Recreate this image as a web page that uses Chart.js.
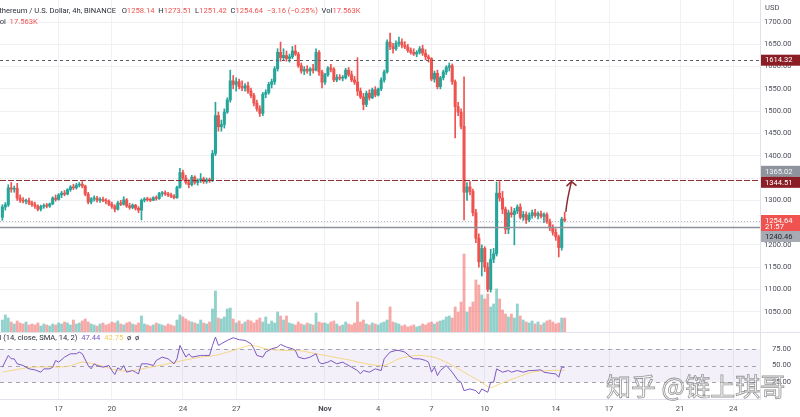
<!DOCTYPE html>
<html>
<head>
<meta charset="utf-8">
<script src="https://cdn.jsdelivr.net/npm/chart.js@4.4.0/dist/chart.umd.min.js"></script>
<style>
    html, body { margin: 0; padding: 0; background: #fff; overflow: hidden; }
    #wrap { position: relative; width: 800px; height: 417px; font-family: Roboto, 'Open Sans', sans-serif; }
    #priceBox { position: absolute; left: 0; top: 0; width: 800px; height: 332px; }
    #rsiBox { position: absolute; left: 0; top: 332px; width: 800px; height: 85px; }
    .legend { position: absolute; white-space: nowrap; font-size: 7.6px; line-height: 10px; color: #2a2e39; }
    .red { color: #ef5350; }
    .purple { color: #7e57c2; }
    .yellow { color: #f2cc5c; }
    #wm {
        position: absolute; left: 606px; top: 373px; font-size: 25px; line-height: 25px;
        font-family: 'Noto Sans CJK SC', sans-serif; white-space: nowrap;
        color: rgba(255, 255, 255, 0.55); -webkit-text-stroke: 0.8px rgba(115, 115, 115, 0.75);
    }
</style>
</head>
<body>
<div id="wrap">
    <div id="priceBox"><canvas id="graficoPreco"></canvas></div>
    <div id="rsiBox"><canvas id="graficoRsi"></canvas></div>
    <div class="legend" style="left:-5px; top:6px">Ethereum / U.S. Dollar, 4h, BINANCE&nbsp;&nbsp;
        O<span class="red" id="lgO"></span>&nbsp; H<span class="red" id="lgH"></span>&nbsp; L<span class="red" id="lgL"></span>&nbsp; C<span class="red" id="lgC"></span>&nbsp; <span class="red" id="lgChg"></span>&nbsp; Vol<span class="red" id="lgV"></span></div>
    <div class="legend" style="left:-5px; top:17px">Vol&nbsp; <span class="red" id="lgV2"></span></div>
    <div class="legend" style="left:-10px; top:333px">RSI (14, close, SMA, 14, 2)&nbsp; <span class="purple" id="lgRsi"></span>&nbsp; <span class="yellow" id="lgSma"></span>&nbsp; ø&nbsp; ø</div>
    <div id="wm">知乎 @链上琪哥</div>
</div>
<script>
// ETH/USD 4h candles, day 0 = 1 Nov 00:00
const firstCandleDay = -18 - 1 / 6;   // 13 Oct 20:00
const candlesPerDay = 6;

const opens = [
    1262, 1285, 1290, 1328, 1325, 1327, 1305, 1300, 1298, 1299,
    1294, 1290, 1287, 1280, 1286, 1288, 1287, 1292, 1305, 1302,
    1312, 1316, 1314, 1324, 1330, 1328, 1334, 1336, 1332, 1314,
    1296, 1303, 1305, 1300, 1302, 1299, 1298, 1291, 1286, 1280,
    1294, 1291, 1301, 1287, 1284, 1289, 1282, 1278, 1300, 1303,
    1301, 1300, 1306, 1304, 1315, 1317, 1314, 1312, 1309, 1306,
    1329, 1362, 1350, 1340, 1335, 1352, 1340, 1345, 1348, 1342,
    1346, 1344, 1405, 1490, 1465, 1470, 1498, 1525, 1568, 1560,
    1566, 1555, 1552, 1557, 1545, 1535, 1518, 1505, 1495, 1538,
    1542, 1560, 1566, 1595, 1632, 1620, 1625, 1618, 1622, 1635,
    1628, 1602, 1590, 1594, 1590, 1595, 1592, 1632, 1588, 1565,
    1582, 1597, 1594, 1570, 1576, 1574, 1575, 1592, 1582, 1570,
    1565, 1545, 1532, 1515, 1540, 1530, 1548, 1536, 1550, 1570,
    1588, 1655, 1645, 1640, 1652, 1655, 1648, 1644, 1636, 1632,
    1628, 1632, 1640, 1630, 1622, 1618, 1572, 1585, 1555, 1575,
    1588, 1598, 1602, 1566, 1510, 1498, 1466, 1318, 1330, 1320,
    1272, 1215, 1162, 1192, 1150, 1100, 1168, 1180, 1316, 1305,
    1280, 1235, 1272, 1268, 1276, 1285, 1262, 1268, 1256, 1266,
    1272, 1266, 1270, 1264, 1268, 1252, 1238, 1228, 1218, 1194,
    1258.14
];
const highs = [
    1290, 1295, 1335, 1340, 1332, 1338, 1312, 1306, 1303, 1305,
    1298, 1296, 1290, 1289, 1292, 1293, 1294, 1308, 1312, 1315,
    1320, 1322, 1326, 1333, 1336, 1338, 1340, 1342, 1334, 1318,
    1306, 1310, 1309, 1306, 1307, 1304, 1301, 1296, 1290, 1298,
    1300, 1308, 1304, 1293, 1292, 1291, 1286, 1303, 1306, 1307,
    1305, 1308, 1310, 1318, 1320, 1321, 1318, 1316, 1313, 1332,
    1372, 1368, 1356, 1346, 1356, 1355, 1348, 1360, 1352, 1350,
    1350, 1412, 1520, 1498, 1480, 1505, 1530, 1592, 1580, 1575,
    1572, 1568, 1562, 1565, 1552, 1540, 1525, 1512, 1542, 1548,
    1565, 1572, 1600, 1640, 1655, 1640, 1635, 1628, 1645, 1648,
    1632, 1608, 1600, 1602, 1598, 1605, 1640, 1636, 1592, 1585,
    1600, 1605, 1598, 1582, 1582, 1580, 1596, 1598, 1590, 1578,
    1620, 1552, 1540, 1545, 1548, 1552, 1555, 1552, 1575, 1592,
    1660, 1675, 1652, 1658, 1666, 1662, 1656, 1650, 1642, 1640,
    1636, 1645, 1648, 1638, 1626, 1620, 1590, 1592, 1578, 1592,
    1602, 1608, 1606, 1570, 1520, 1505, 1577, 1340, 1342, 1325,
    1280, 1225, 1200, 1196, 1160, 1190, 1192, 1341, 1342, 1320,
    1285, 1278, 1285, 1282, 1290, 1292, 1275, 1274, 1272, 1278,
    1280, 1274, 1276, 1272, 1272, 1258, 1245, 1236, 1222, 1262,
    1273.51
];
const lows = [
    1255, 1278, 1286, 1318, 1318, 1300, 1295, 1294, 1292, 1290,
    1286, 1282, 1276, 1276, 1282, 1283, 1284, 1290, 1298, 1300,
    1306, 1310, 1312, 1320, 1324, 1325, 1330, 1328, 1310, 1292,
    1292, 1298, 1296, 1295, 1297, 1292, 1288, 1282, 1274, 1278,
    1288, 1289, 1284, 1280, 1281, 1278, 1272, 1256, 1296, 1298,
    1297, 1299, 1300, 1302, 1309, 1311, 1308, 1306, 1303, 1304,
    1327, 1345, 1336, 1328, 1332, 1336, 1334, 1340, 1338, 1338,
    1340, 1342, 1400, 1455, 1455, 1462, 1495, 1520, 1550, 1545,
    1550, 1546, 1545, 1540, 1530, 1512, 1500, 1488, 1490, 1530,
    1538, 1552, 1560, 1590, 1612, 1615, 1612, 1610, 1618, 1625,
    1598, 1585, 1582, 1585, 1580, 1585, 1590, 1580, 1552, 1560,
    1578, 1588, 1566, 1566, 1570, 1568, 1572, 1578, 1566, 1560,
    1535, 1528, 1503, 1510, 1525, 1528, 1532, 1534, 1546, 1565,
    1585, 1638, 1630, 1636, 1645, 1642, 1640, 1632, 1628, 1625,
    1622, 1628, 1625, 1615, 1610, 1568, 1565, 1550, 1550, 1570,
    1582, 1590, 1560, 1440, 1490, 1460, 1256, 1300, 1312, 1265,
    1205, 1150, 1130, 1140, 1095, 1094, 1160, 1175, 1298, 1270,
    1225, 1225, 1262, 1200, 1270, 1258, 1255, 1248, 1252, 1260,
    1262, 1258, 1260, 1250, 1248, 1232, 1222, 1210, 1173, 1188,
    1251.42
];
const closes = [
    1285, 1290, 1328, 1325, 1327, 1305, 1300, 1298, 1299, 1294,
    1290, 1287, 1280, 1286, 1288, 1287, 1292, 1305, 1302, 1312,
    1316, 1314, 1324, 1330, 1328, 1334, 1336, 1332, 1314, 1296,
    1303, 1305, 1300, 1302, 1299, 1298, 1291, 1286, 1280, 1294,
    1291, 1301, 1287, 1284, 1289, 1282, 1278, 1300, 1303, 1301,
    1300, 1306, 1304, 1315, 1317, 1314, 1312, 1309, 1306, 1329,
    1362, 1350, 1340, 1335, 1352, 1340, 1345, 1348, 1342, 1346,
    1344, 1405, 1490, 1465, 1470, 1498, 1525, 1568, 1560, 1566,
    1555, 1552, 1557, 1545, 1535, 1518, 1505, 1495, 1538, 1542,
    1560, 1566, 1595, 1632, 1620, 1625, 1618, 1622, 1635, 1628,
    1602, 1590, 1594, 1590, 1595, 1592, 1632, 1588, 1565, 1582,
    1597, 1594, 1570, 1576, 1574, 1575, 1592, 1582, 1570, 1565,
    1545, 1532, 1515, 1540, 1530, 1548, 1536, 1550, 1570, 1588,
    1655, 1645, 1640, 1652, 1655, 1648, 1644, 1636, 1632, 1628,
    1632, 1640, 1630, 1622, 1618, 1572, 1585, 1555, 1575, 1588,
    1598, 1602, 1566, 1510, 1498, 1466, 1318, 1330, 1320, 1272,
    1215, 1162, 1192, 1150, 1100, 1168, 1180, 1316, 1305, 1280,
    1235, 1272, 1268, 1276, 1285, 1262, 1268, 1256, 1266, 1272,
    1266, 1270, 1264, 1268, 1252, 1238, 1228, 1218, 1194, 1257.80,
    1254.64
];
// volume, thousands of ETH
const volumes = [
    15, 21.3, 17.5, 12.5, 10, 13.8, 11.3, 10, 12.5, 8.8,
    10, 8.8, 11.3, 7.5, 10, 8.8, 7.5, 10, 8.8, 11.3,
    10, 12.5, 11.3, 8.8, 15, 10, 11.3, 13.8, 16.3, 12.5,
    10, 8.8, 7.5, 10, 11.3, 8.8, 10, 12.5, 11.3, 13.8,
    10, 8.8, 11.3, 12.5, 10, 8.8, 11.3, 20, 10, 8.8,
    7.5, 8.8, 11.3, 10, 8.8, 7.5, 10, 8.8, 7.5, 15,
    21.3, 18.8, 16.3, 13.8, 12.5, 11.3, 10, 15, 11.3, 10,
    12.5, 28.8, 51.3, 17.5, 16.3, 18.8, 28.8, 30, 16.3, 11.3,
    13.8, 10, 12.5, 15, 13.8, 11.3, 15, 17.5, 12.5, 18.8,
    10, 13.8, 11.3, 25, 20, 15, 20, 11.3, 10, 8.8,
    12.5, 10, 8.8, 11.3, 10, 8.8, 23.8, 12.5, 11.3, 11.3,
    10, 12.5, 13.8, 10, 7.5, 8.8, 12.5, 10, 8.8, 11.3,
    37.5, 12.5, 15, 10, 8.8, 11.3, 10, 8.8, 11.3, 12.5,
    15, 31.3, 12.5, 11.3, 10, 7.5, 8.8, 6.3, 7.5, 8.8,
    6.3, 7.5, 10, 8.8, 11.3, 12.5, 10, 12.5, 13.8, 15,
    18.8, 20, 17.5, 31.3, 25, 37.5, 97.5, 25, 31.3, 37.5,
    65, 58.8, 46.3, 41.3, 47.5, 31.3, 35, 53.8, 41.3, 27.5,
    22.5, 18.8, 22.5, 17.5, 35, 20, 15, 12.5, 11.3, 13.8,
    10, 12.5, 8.8, 11.3, 13.8, 15, 12.5, 10, 11.3, 17.5,
    17.563
];

const rsiPoints = [
    [0, 47.5], [2, 65], [3, 60], [4, 60], [5, 52.5], [7, 50], [9, 45], [11, 43.5], [13, 40], [14, 45],
    [16, 45], [17, 47.5], [18, 57.5], [19, 55], [21, 62.5], [23, 67.5], [25, 67.5], [26, 70], [27, 67.5], [29, 50],
    [30, 45], [31, 52.5], [32, 50], [34, 47.5], [36, 50], [37, 42.5], [38, 36.5], [39, 46.5], [40, 43.5], [41, 50],
    [42, 40], [44, 42.5], [45, 40], [46, 37.5], [47, 52.5], [49, 52.5], [51, 50], [52, 57.5], [54, 62.5], [56, 60],
    [58, 52.5], [59, 60], [60, 80], [62, 62.5], [63, 67.5], [64, 62.5], [67, 65], [68, 65], [70, 65], [71, 80],
    [72, 92.5], [73, 80], [74, 82.5], [76, 87.5], [78, 91.5], [80, 88.5], [82, 87.5], [84, 82.5], [85, 75], [86, 65],
    [88, 62.5], [89, 70], [91, 75], [93, 77.5], [94, 81.5], [96, 77.5], [98, 75], [99, 72.5], [100, 62.5], [102, 60],
    [104, 62.5], [106, 67.5], [107, 55], [108, 52.5], [110, 55], [111, 57.5], [113, 52.5], [115, 55], [116, 52.5], [118, 47.5],
    [120, 42.5], [121, 37.5], [122, 42.5], [124, 40], [126, 45], [128, 42.5], [129, 60], [131, 70], [133, 72.5], [134, 72.5],
    [136, 70], [138, 62.5], [139, 60], [141, 60], [143, 57.5], [144, 55], [145, 40], [146, 47.5], [147, 35], [148, 42.5],
    [150, 50], [152, 40], [154, 27.5], [155, 25], [156, 12.5], [158, 15], [160, 12.5], [161, 7.5], [162, 15], [164, 10],
    [165, 25], [166, 25], [167, 45], [169, 40], [171, 42.5], [172, 40], [174, 42.5], [176, 40], [178, 42.5], [179, 42.5],
    [182, 43.5], [183, 40], [185, 38.5], [187, 37.5], [188, 32.5], [189, 47.5], [190, 47.44]
];
const rsiSmaPoints = [
    [0, 40], [10, 47.5], [22, 48.5], [27, 55], [33, 50], [39, 42.5], [44, 42.5], [50, 47.5], [56, 52.5], [61, 57.5],
    [67, 62.5], [72, 65], [78, 72.5], [84, 80], [89, 75], [95, 72.5], [100, 72.5], [106, 67.5], [112, 62.5], [118, 57.5],
    [123, 52.5], [129, 50], [134, 60], [140, 65], [146, 62], [151, 52.5], [157, 37.5], [162, 25], [165, 17], [168, 22.5],
    [174, 32.5], [179, 40], [185, 42.5], [190, 42.75]
];

// horizontal levels and right-axis tags
const resistanceHigh = 1614.32;
const resistanceMid = 1344.51;
const alertPrice = 1365.02;
const supportPrice = 1240.46;
const countdown = '21:57';
// arrow drawn on the chart: [candle index, price]
const arrowFrom = [190.4, 1274];
const arrowTo = [192.3, 1342];

// axes
const tickDays = [-15, -12, -8, -5, 0, 3, 6, 9, 13, 16, 20, 23];
const tickLabels = ['17', '20', '24', '27', 'Nov', '4', '7', '10', '14', '17', '21', '24'];
const priceTicks = [1050, 1100, 1150, 1200, 1250, 1300, 1350, 1400, 1450, 1500, 1550, 1600, 1650, 1700];
const rsiTicks = [25, 50, 75];

const dayMin = -18.3, dayMax = 24.5;
const priceMin = 1004.5, priceMax = 1749.4;
const volMax = 415;

const corVerde = '#26a69a';
const corVermelha = '#ef5350';
const fonte = "Roboto, 'Open Sans', sans-serif";
const corTexto = '#4c4f59';
const corGrade = '#f0f1f5';

const candleDay = i => firstCandleDay + i / candlesPerDay;
const isUp = i => closes[i] >= opens[i];
// no extra room for the end labels: the chart area fills the canvas
const semMargem = s => { s.paddingTop = 0; s.paddingBottom = 0; s.paddingLeft = 0; s.paddingRight = 0; };

// legenda
const n = closes.length - 1;
const chg = closes[n] - closes[n - 1];
document.getElementById('lgO').textContent = opens[n].toFixed(2);
document.getElementById('lgH').textContent = highs[n].toFixed(2);
document.getElementById('lgL').textContent = lows[n].toFixed(2);
document.getElementById('lgC').textContent = closes[n].toFixed(2);
document.getElementById('lgChg').textContent = '\u2212' + Math.abs(chg).toFixed(2) + ' (\u2212' + Math.abs(chg / closes[n - 1] * 100).toFixed(2) + '%)';
document.getElementById('lgV').textContent = volumes[n].toFixed(3) + 'K';
document.getElementById('lgV2').textContent = volumes[n].toFixed(3) + 'K';
document.getElementById('lgRsi').textContent = rsiPoints[rsiPoints.length - 1][1].toFixed(2);
document.getElementById('lgSma').textContent = rsiSmaPoints[rsiSmaPoints.length - 1][1].toFixed(2);

// linhas, seta e etiquetas do eixo de preço
const overlayPreco = {
    id: 'overlayPreco',
    afterDatasetsDraw(chart) {
        const { ctx, chartArea: a, scales: { x, y } } = chart;
        ctx.save();
        ctx.beginPath();
        ctx.rect(a.left, a.top, a.right - a.left, a.bottom - a.top);
        ctx.clip();
        const hline = (price, color, dash, width) => {
            const py = Math.round(y.getPixelForValue(price)) + 0.5;
            ctx.strokeStyle = color;
            ctx.lineWidth = width;
            ctx.setLineDash(dash);
            ctx.beginPath();
            ctx.moveTo(a.left, py);
            ctx.lineTo(a.right, py);
            ctx.stroke();
        };
        hline(resistanceHigh, '#5b5e68', [3, 3], 1);
        hline(resistanceMid, '#8e2f36', [6, 2], 1.2);
        hline(supportPrice, '#8f929b', [], 1.5);
        hline(closes[n], 'rgba(140,143,155,0.6)', [1, 2], 1);

        // seta
        const x0 = x.getPixelForValue(candleDay(arrowFrom[0])), y0 = y.getPixelForValue(arrowFrom[1]);
        const x1 = x.getPixelForValue(candleDay(arrowTo[0])), y1 = y.getPixelForValue(arrowTo[1]);
        ctx.setLineDash([]);
        ctx.strokeStyle = '#8b2a2f';
        ctx.lineWidth = 1.5;
        ctx.beginPath();
        ctx.moveTo(x0, y0);
        ctx.quadraticCurveTo(x0 + 1, y0 - 12, x1, y1);
        ctx.moveTo(x1 - 5, y1 + 4.5);
        ctx.lineTo(x1, y1);
        ctx.lineTo(x1 + 5, y1 + 4);
        ctx.stroke();
        ctx.restore();
    },
    afterDraw(chart) {
        const { ctx, chartArea: a, scales: { y } } = chart;
        const left = a.right + 1;
        const w = chart.width - left;
        ctx.save();
        ctx.font = '7.6px ' + fonte;
        ctx.textBaseline = 'middle';
        ctx.fillStyle = corTexto;
        ctx.fillText('USD', left + 4, 8);
        const tags = [
            { price: resistanceHigh, lines: [resistanceHigh.toFixed(2)], bg: '#8b1d24', fg: '#fff' },
            { price: alertPrice, lines: [alertPrice.toFixed(2)], bg: '#8f939e', fg: '#f4f4f6' },
            { price: resistanceMid, lines: [resistanceMid.toFixed(2)], bg: '#8b1d24', fg: '#fff' },
            { price: closes[n], lines: [closes[n].toFixed(2), countdown], bg: '#f0524f', fg: '#fff' },
            { price: supportPrice, lines: [supportPrice.toFixed(2)], bg: '#a7aab3', fg: '#1e222d' }
        ];
        let prevBottom = -Infinity;
        tags.forEach(t => {
            const h = t.lines.length === 1 ? 11 : 16;
            const py = y.getPixelForValue(t.price);
            const top = Math.max(py - 5.5, prevBottom);
            prevBottom = top + h;
            ctx.fillStyle = t.bg;
            ctx.fillRect(left, top, w, h);
            ctx.fillStyle = t.fg;
            t.lines.forEach((s, k) => ctx.fillText(s, left + 4, top + 5.8 + k * 6.5));
        });
        ctx.restore();
    }
};

const ctxPreco = document.getElementById('graficoPreco').getContext('2d');
new Chart(ctxPreco, {
    type: 'bar',
    data: {
        datasets: [
            {
                label: 'Volume',
                yAxisID: 'yVol',
                data: volumes.map((v, i) => ({ x: candleDay(i), y: v })),
                backgroundColor: ctx => isUp(ctx.dataIndex) ? 'rgba(38,166,154,0.5)' : 'rgba(239,83,80,0.5)',
                barThickness: 2.2,
                grouped: false,
                order: 3
            },
            {
                label: 'Pavio',
                yAxisID: 'y',
                data: lows.map((l, i) => ({ x: candleDay(i), y: [l, highs[i]] })),
                backgroundColor: ctx => isUp(ctx.dataIndex) ? corVerde : corVermelha,
                barThickness: 1,
                grouped: false,
                order: 2
            },
            {
                label: 'Corpo',
                yAxisID: 'y',
                data: opens.map((o, i) => ({ x: candleDay(i), y: [o, closes[i]] })),
                backgroundColor: ctx => isUp(ctx.dataIndex) ? corVerde : corVermelha,
                barThickness: 2.4,
                minBarLength: 1,
                grouped: false,
                order: 1
            }
        ]
    },
    options: {
        responsive: true,
        maintainAspectRatio: false,
        animation: false,
        layout: { padding: 0 },
        plugins: { legend: { display: false }, tooltip: { enabled: false } },
        scales: {
            x: {
                type: 'linear',
                min: dayMin,
                max: dayMax,
                offset: false,
                grid: { color: corGrade, drawTicks: false, offset: false },
                border: { display: false },
                ticks: { display: false },
                afterBuildTicks: s => { s.ticks = tickDays.map(v => ({ value: v })); },
                afterFit: s => { s.height = 0; semMargem(s); }
            },
            y: {
                position: 'right',
                min: priceMin,
                max: priceMax,
                grid: { color: corGrade, drawTicks: false },
                border: { display: true, color: '#dfe1e8' },
                ticks: {
                    padding: 4,
                    color: corTexto,
                    font: { size: 7.6, family: fonte },
                    callback: v => v.toFixed(2)
                },
                afterBuildTicks: s => { s.ticks = priceTicks.map(v => ({ value: v })); },
                afterFit: s => { s.width = 40; semMargem(s); }
            },
            yVol: { position: 'left', display: false, min: 0, max: volMax }
        }
    },
    plugins: [overlayPreco]
});

// faixa 25-75 e linhas tracejadas do RSI
const faixaRsi = {
    id: 'faixaRsi',
    beforeDatasetsDraw(chart) {
        const { ctx, chartArea: a, scales: { y } } = chart;
        const y75 = y.getPixelForValue(75), y25 = y.getPixelForValue(25);
        ctx.save();
        ctx.fillStyle = 'rgba(126,87,194,0.09)';
        ctx.fillRect(a.left, y75, a.right - a.left, y25 - y75);
        ctx.strokeStyle = '#a3a6af';
        ctx.lineWidth = 1;
        ctx.setLineDash([4, 4]);
        rsiTicks.forEach(v => {
            const py = Math.round(y.getPixelForValue(v)) + 0.5;
            ctx.beginPath();
            ctx.moveTo(a.left, py);
            ctx.lineTo(a.right, py);
            ctx.stroke();
        });
        ctx.setLineDash([]);
        ctx.strokeStyle = '#e0e3eb';
        ctx.beginPath();
        ctx.moveTo(a.left, a.top + 0.5);
        ctx.lineTo(chart.width, a.top + 0.5);
        ctx.stroke();
        ctx.restore();
    }
};

const ctxRsi = document.getElementById('graficoRsi').getContext('2d');
new Chart(ctxRsi, {
    type: 'line',
    data: {
        datasets: [
            {
                label: 'RSI',
                data: rsiPoints.map(p => ({ x: candleDay(p[0]), y: p[1] })),
                borderColor: '#7e57c2',
                borderWidth: 1,
                pointRadius: 0,
                tension: 0,
                order: 1
            },
            {
                label: 'SMA',
                data: rsiSmaPoints.map(p => ({ x: candleDay(p[0]), y: p[1] })),
                borderColor: 'rgba(245,205,95,0.75)',
                borderWidth: 1,
                pointRadius: 0,
                tension: 0.3,
                order: 2
            }
        ]
    },
    options: {
        responsive: true,
        maintainAspectRatio: false,
        animation: false,
        layout: { padding: 0 },
        plugins: { legend: { display: false }, tooltip: { enabled: false } },
        scales: {
            x: {
                type: 'linear',
                min: dayMin,
                max: dayMax,
                grid: { color: corGrade, drawTicks: false },
                border: { display: true, color: '#e0e3eb' },
                ticks: {
                    autoSkip: false,
                    maxRotation: 0,
                    padding: 6,
                    color: corTexto,
                    font: c => ({ size: 7.6, family: fonte, weight: tickLabels[c.index] === 'Nov' ? 'bold' : 'normal' }),
                    callback: (v, i) => tickLabels[i]
                },
                afterBuildTicks: s => { s.ticks = tickDays.map(v => ({ value: v })); },
                afterFit: s => { s.height = 18; semMargem(s); }
            },
            y: {
                position: 'right',
                min: 0,
                max: 100,
                grid: { display: false },
                border: { display: true, color: '#dfe1e8' },
                ticks: {
                    padding: 4,
                    color: corTexto,
                    font: { size: 7.6, family: fonte },
                    callback: v => v.toFixed(2)
                },
                afterBuildTicks: s => { s.ticks = rsiTicks.map(v => ({ value: v })); },
                afterFit: s => { s.width = 40; semMargem(s); }
            }
        }
    },
    plugins: [faixaRsi]
});
</script>
</body>
</html>
